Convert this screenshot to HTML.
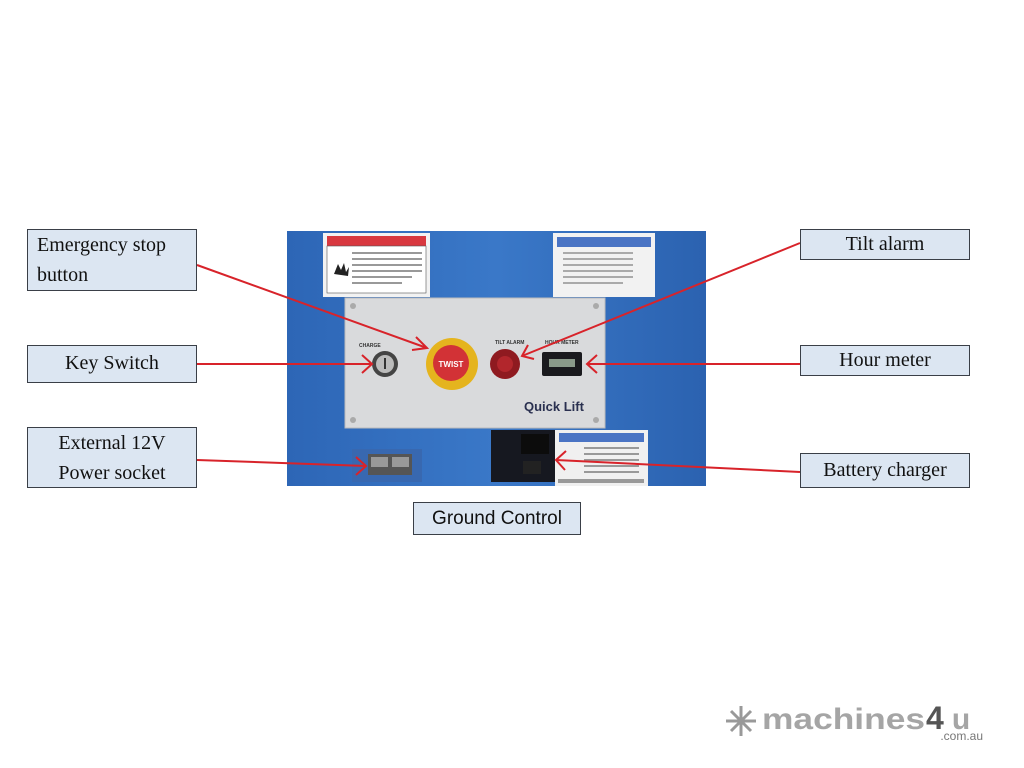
<!DOCTYPE html>
<html><head><meta charset="utf-8"><style>
body{margin:0;width:1024px;height:768px;background:#fff;position:relative;overflow:hidden;font-family:"Liberation Serif",serif}
.lb{position:absolute;background:#dce6f2;border:1.5px solid #3a3f47;box-sizing:border-box;font-size:20px;color:#111;line-height:30px}
</style></head><body>
<svg width="1024" height="768" style="position:absolute;left:0;top:0">
<defs>
<linearGradient id="bl" x1="0" x2="1"><stop offset="0" stop-color="#2d66b6"/><stop offset="0.5" stop-color="#3a78c8"/><stop offset="1" stop-color="#2b62b0"/></linearGradient>
</defs>
<rect x="287" y="231" width="419" height="255" fill="url(#bl)"/>
<rect x="323" y="233" width="107" height="64" fill="#f2f2f2"/>
<rect x="327" y="236" width="99" height="10" fill="#d8383f"/>
<rect x="327" y="246" width="99" height="47" fill="#fff" stroke="#555" stroke-width="0.6"/>
<g fill="#999"><rect x="352" y="252" width="70" height="2"/><rect x="352" y="258" width="70" height="2"/><rect x="352" y="264" width="70" height="2"/><rect x="352" y="270" width="70" height="2"/><rect x="352" y="276" width="60" height="2"/><rect x="352" y="282" width="50" height="2"/></g>
<path d="M334 274 l4 -10 l3 6 l3 -7 l2 9 l3 -5 l-1 9z" fill="#222"/>
<rect x="553" y="233" width="102" height="64" fill="#f2f2f2"/>
<rect x="557" y="237" width="94" height="10" fill="#4a74c4"/>
<g fill="#aaa"><rect x="563" y="252" width="70" height="2"/><rect x="563" y="258" width="70" height="2"/><rect x="563" y="264" width="70" height="2"/><rect x="563" y="270" width="70" height="2"/><rect x="563" y="276" width="70" height="2"/><rect x="563" y="282" width="60" height="2"/></g>
<rect x="345" y="298" width="260" height="130" fill="#d9dadc" stroke="#bbb"/>
<g fill="#aaa"><circle cx="353" cy="306" r="3"/><circle cx="596" cy="306" r="3"/><circle cx="353" cy="420" r="3"/><circle cx="596" cy="420" r="3"/></g>
<text x="359" y="347" font-family="Liberation Sans" font-size="5" font-weight="bold" fill="#333">CHARGE</text>
<text x="495" y="344" font-family="Liberation Sans" font-size="5" font-weight="bold" fill="#333">TILT ALARM</text>
<text x="545" y="344" font-family="Liberation Sans" font-size="5" font-weight="bold" fill="#333">HOUR METER</text>
<circle cx="385" cy="364" r="13" fill="#444"/><circle cx="385" cy="364" r="9" fill="#bbb"/><rect x="384" y="358" width="2" height="11" fill="#333"/>
<circle cx="452" cy="364" r="26" fill="#e5b41e"/><circle cx="451" cy="363" r="18" fill="#d23236"/>
<text x="451" y="367" font-family="Liberation Sans" font-size="8" font-weight="bold" fill="#fff" text-anchor="middle">TWIST</text>
<circle cx="505" cy="364" r="15" fill="#8f1a20"/><circle cx="505" cy="364" r="8" fill="#b2262c"/>
<rect x="542" y="352" width="40" height="24" rx="2" fill="#1a1a1e"/><rect x="549" y="359" width="26" height="8" fill="#8a9a8a"/>
<text x="524" y="411" font-family="Liberation Sans" font-size="13" font-weight="bold" fill="#2a3050">Quick Lift</text>
<rect x="352" y="449" width="70" height="33" fill="#3868b0"/><rect x="368" y="454" width="44" height="21" fill="#555"/><rect x="371" y="457" width="17" height="10" fill="#999"/><rect x="392" y="457" width="17" height="10" fill="#999"/>
<rect x="491" y="430" width="73" height="52" fill="#161820"/><rect x="521" y="434" width="28" height="20" fill="#0c0c0c"/><rect x="523" y="461" width="18" height="13" fill="#222"/>
<rect x="555" y="430" width="93" height="56" fill="#f0f0f0"/><rect x="559" y="433" width="85" height="9" fill="#4a74c4"/>
<g fill="#999"><rect x="584" y="447" width="55" height="2"/><rect x="584" y="453" width="55" height="2"/><rect x="584" y="459" width="55" height="2"/><rect x="584" y="465" width="55" height="2"/><rect x="584" y="471" width="55" height="2"/><rect x="558" y="479" width="86" height="4"/></g>
<g stroke="#d8232a" stroke-width="2" fill="none">
<line x1="197" y1="265" x2="427" y2="348"/><path d="M416 337 L427 348 L412 350"/>
<line x1="197" y1="364" x2="372" y2="364"/><path d="M362 355 L372 364 L362 373"/>
<line x1="197" y1="460" x2="366" y2="466"/><path d="M356 457 L366 466 L356 475"/>
<line x1="800" y1="243" x2="522" y2="356"/><path d="M528 345 L522 356 L534 359"/>
<line x1="800" y1="364" x2="587" y2="364"/><path d="M597 355 L587 364 L597 373"/>
<line x1="800" y1="472" x2="556" y2="460"/><path d="M566 451 L556 460 L565 470"/>
</g>
<g stroke="#999" stroke-width="3"><line x1="741" y1="706" x2="741" y2="736"/><line x1="726" y1="721" x2="756" y2="721"/><line x1="731" y1="711" x2="751" y2="731"/><line x1="751" y1="711" x2="731" y2="731"/></g>
<text x="762" y="729" font-family="Liberation Sans" font-size="30" font-weight="bold" fill="#a5a5a5" textLength="163" lengthAdjust="spacingAndGlyphs">machines</text>
<text x="926" y="729" font-family="Liberation Sans" font-size="32" font-weight="bold" fill="#555">4</text>
<text x="961" y="729" font-family="Liberation Sans" font-size="30" font-weight="bold" fill="#a5a5a5" text-anchor="middle">u</text>
<text x="983" y="740" font-family="Liberation Sans" font-size="12" fill="#777" text-anchor="end">.com.au</text>
</svg>
<div class="lb" style="left:27px;top:229px;width:170px;height:62px;padding-left:9px;line-height:30px">Emergency stop<br>button</div>
<div class="lb" style="left:27px;top:345px;width:170px;height:38px;text-align:center;line-height:35px">Key Switch</div>
<div class="lb" style="left:27px;top:427px;width:170px;height:61px;text-align:center;line-height:30px">External 12V<br>Power socket</div>
<div class="lb" style="left:800px;top:229px;width:170px;height:31px;text-align:center;line-height:29px">Tilt alarm</div>
<div class="lb" style="left:800px;top:345px;width:170px;height:31px;text-align:center;line-height:29px">Hour meter</div>
<div class="lb" style="left:800px;top:453px;width:170px;height:35px;text-align:center;line-height:33px">Battery charger</div>
<div class="lb" style="left:413px;top:502px;width:168px;height:33px;text-align:center;line-height:31px;font-family:'Liberation Sans',sans-serif;font-size:19px">Ground Control</div>
</body></html>
